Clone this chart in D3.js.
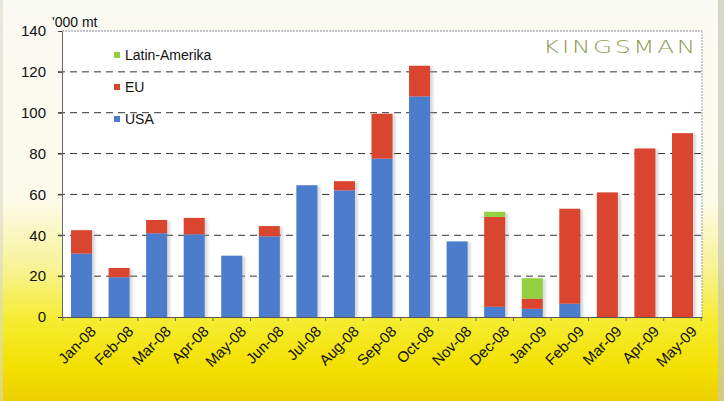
<!DOCTYPE html>
<html><head><meta charset="utf-8">
<script src="https://cdn.jsdelivr.net/npm/d3@7"></script>
<style>body{margin:0;padding:0;overflow:hidden;background:#fff}</style>
</head><body>
<svg id="chart" width="724" height="401"></svg>
<script>
const categories = ["Jan-08","Feb-08","Mar-08","Apr-08","May-08","Jun-08","Jul-08","Aug-08","Sep-08","Oct-08","Nov-08","Dec-08","Jan-09","Feb-09","Mar-09","Apr-09","May-09"];
const usa   = [31, 19.5, 41, 40.5, 30, 39.5, 64.5, 62, 77.5, 108, 37, 5, 4, 6.5, 0, 0, 0];
const eu    = [11.5, 4.5, 6.5, 8, 0, 5, 0, 4.5, 22, 15, 0, 44, 5, 46.5, 61, 82.5, 90];
const latam = [0, 0, 0, 0, 0, 0, 0, 0, 0, 0, 0, 2.5, 10, 0, 0, 0, 0];
const seriesNames = ["USA","EU","Latin-Amerika"];
const legendOrder = ["Latin-Amerika","EU","USA"];
const yTicks = [0,20,40,60,80,100,120,140];
const colors = {"USA":"#4c7ccc","EU":"#d9452f","Latin-Amerika":"#93d040"};

const svg = d3.select("#chart");
const W = 724, H = 401;
const m = {left:62, right:22, top:31, bottom:84};
const pw = W - m.left - m.right, ph = H - m.top - m.bottom;

// background
const defs = svg.append("defs");
const g1 = defs.append("linearGradient").attr("id","bg").attr("x1",0).attr("y1",0).attr("x2",0).attr("y2",1);
[[0,"#fafaf4"],[0.5,"#fcfbea"],[0.66,"#f8f39a"],[0.8,"#f5ec30"],[0.92,"#f3e000"],[1,"#eccf00"]]
  .forEach(([o,c])=>g1.append("stop").attr("offset",o).attr("stop-color",c));
defs.append("filter").attr("id","shadow").attr("x","-20%").attr("y","-5%").attr("width","150%").attr("height","110%")
  .append("feGaussianBlur").attr("stdDeviation",1.2);

svg.append("rect").attr("width",W).attr("height",H).attr("fill","url(#bg)");
svg.append("rect").attr("x",W-6).attr("y",0).attr("width",6).attr("height",H).attr("fill","#c8c8b4").attr("opacity",0.7);
svg.append("rect").attr("x",0).attr("y",0).attr("width",3).attr("height",H).attr("fill","#d8d8c8").attr("opacity",0.6);

const g = svg.append("g").attr("transform",`translate(${m.left},${m.top})`);
g.append("rect").attr("width",pw).attr("height",ph).attr("fill","#ffffff");

const x = d3.scaleBand().domain(categories).range([0,pw]).paddingInner(0.44).paddingOuter(0.24);
const y = d3.scaleLinear().domain([0,140]).range([ph,0]);

// grid
g.append("g").selectAll("line").data(yTicks.filter(t=>t>0 && t<140)).join("line")
  .attr("x1",-4).attr("x2",pw).attr("y1",d=>y(d)).attr("y2",d=>y(d))
  .attr("stroke","#333").attr("stroke-width",1).attr("stroke-dasharray","7,5");
// top / right border
g.append("line").attr("x1",0).attr("x2",pw).attr("y1",0).attr("y2",0).attr("stroke","#8a8a9a").attr("stroke-dasharray","2,1");
g.append("line").attr("x1",pw).attr("x2",pw).attr("y1",0).attr("y2",ph).attr("stroke","#999").attr("stroke-dasharray","2,1");

// stacked data
const rows = categories.map((c,i)=>({cat:c,"USA":usa[i],"EU":eu[i],"Latin-Amerika":latam[i]}));
const stack = d3.stack().keys(seriesNames)(rows);

// shadows
const sh = g.append("g").attr("filter","url(#shadow)").attr("opacity",0.35);
stack.forEach(s=>{
  sh.selectAll(null).data(s.filter(d=>d[1]>d[0])).join("rect")
    .attr("x",d=>x(d.data.cat)+3).attr("width",x.bandwidth())
    .attr("y",d=>y(d[1])+1).attr("height",d=>y(d[0])-y(d[1]))
    .attr("fill","#999");
});
stack.forEach(s=>{
  g.append("g").selectAll("rect").data(s.filter(d=>d[1]>d[0])).join("rect")
    .attr("x",d=>x(d.data.cat)).attr("width",x.bandwidth())
    .attr("y",d=>y(d[1])).attr("height",d=>y(d[0])-y(d[1]))
    .attr("fill",colors[s.key]);
});

// y axis
const yAxis = g.append("g").call(d3.axisLeft(y).tickValues(yTicks).tickSize(4).tickPadding(12));
yAxis.select(".domain").attr("stroke","#666");
yAxis.selectAll(".tick line").attr("stroke","#444");
yAxis.selectAll("text").attr("font-family","Arial, Liberation Sans, sans-serif").attr("font-size","15px").attr("fill","#111");

// x axis
const xAxis = g.append("g").attr("transform",`translate(0,${ph})`).call(d3.axisBottom(x).tickSize(0).tickPadding(8));
xAxis.select(".domain").attr("stroke","#555");
xAxis.selectAll("text").attr("font-family","Arial, Liberation Sans, sans-serif").attr("font-size","15px").attr("fill","#111")
  .attr("text-anchor","end").attr("dy","0.35em").attr("transform","translate(6,6) rotate(-45)");
// boundary ticks
const step = x.step();
g.append("g").selectAll("line").data(d3.range(categories.length+1)).join("line")
  .attr("x1",d=>x(categories[0]) - x.paddingInner()*step/2 + d*step).attr("x2",d=>x(categories[0]) - x.paddingInner()*step/2 + d*step)
  .attr("y1",ph).attr("y2",ph+4).attr("stroke","#666");

// unit label
svg.append("text").attr("x",52).attr("y",27).text("'000 mt")
  .attr("font-family","Arial, Liberation Sans, sans-serif").attr("font-size","14px").attr("fill","#111");

// legend
const lg = g.append("g").attr("transform","translate(52,24)");
legendOrder.forEach((k,i)=>{
  lg.append("rect").attr("x",0).attr("y",i*32-3).attr("width",6).attr("height",6).attr("fill",colors[k]);
  lg.append("text").attr("x",11).attr("y",i*32).attr("dy","0.35em").text(k)
    .attr("font-family","Arial, Liberation Sans, sans-serif").attr("font-size","14px").attr("fill","#111");
});

// brand
svg.append("text").attr("x",543).attr("y",53).text("KINGSMAN")
  .attr("font-family","DejaVu Sans, sans-serif").attr("font-size","18px").attr("font-weight","200")
  .attr("letter-spacing","2px")
  .attr("textLength",155).attr("lengthAdjust","spacingAndGlyphs").attr("fill","#8e9a52");
</script>
</body></html>
